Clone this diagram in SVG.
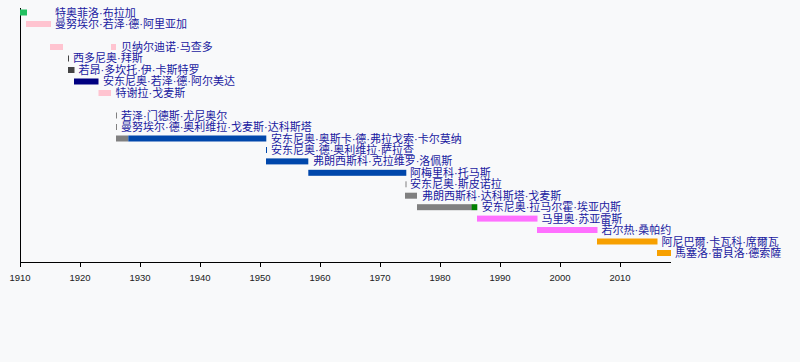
<svg xmlns="http://www.w3.org/2000/svg" width="800" height="362" viewBox="0 0 800 362">
<style>
.lbl{font-family:"Liberation Sans","Noto Sans CJK SC","Noto Sans CJK TC",sans-serif;font-size:11px;fill:#1a1aa0}
.yr{font-family:"Liberation Sans",Arial,sans-serif;font-size:9.5px;fill:#222;text-anchor:middle}
.ax{stroke:#000;stroke-width:1;fill:none}
.g1{fill:#22c060}.pk{fill:#ffc4d0}.dg{fill:#444}.nv{fill:#000080}.gy{fill:#808080}
.bl{fill:#0047ab}.gn{fill:#008000}.mg{fill:#ff70ff}.or{fill:#f7a000}
</style>
<rect width="800" height="362" fill="#f8f9fa"/>
<g id="axes">
<path class="ax" d="M20.5,8V262.5H671"/>
<path class="ax" d="M20.5,262v5M80.5,262v5M140.5,262v5M200.5,262v5M260.5,262v5M320.5,262v5M380.5,262v5M440.5,262v5M500.5,262v5M560.5,262v5M620.5,262v5"/>
<text class="yr" x="20" y="281">1910</text>
<text class="yr" x="80" y="281">1920</text>
<text class="yr" x="140" y="281">1930</text>
<text class="yr" x="200" y="281">1940</text>
<text class="yr" x="260" y="281">1950</text>
<text class="yr" x="320" y="281">1960</text>
<text class="yr" x="380" y="281">1970</text>
<text class="yr" x="440" y="281">1980</text>
<text class="yr" x="500" y="281">1990</text>
<text class="yr" x="560" y="281">2000</text>
<text class="yr" x="620" y="281">2010</text>
</g>
<g id="bars">
<g id="r1"><rect class="g1" x="20" y="9.5" width="7" height="6"/><text class="lbl" x="55" y="16.5">特奥菲洛·布拉加</text></g>
<g id="r2"><rect class="pk" x="26" y="21" width="25" height="6"/><text class="lbl" x="55" y="28">曼努埃尔·若泽·德·阿里亚加</text></g>
<g id="r4"><rect class="pk" x="50" y="44" width="13" height="6"/><rect class="pk" x="111" y="44" width="5" height="6"/><text class="lbl" x="121" y="51">贝纳尔迪诺·马查多</text></g>
<g id="r5"><rect class="dg" x="68" y="55.5" width="1" height="6"/><text class="lbl" x="73" y="62.3">西多尼奥·拜斯</text></g>
<g id="r6"><rect class="dg" x="68" y="67" width="6.5" height="6"/><text class="lbl" x="78.5" y="73.8">若昂·多坎托·伊·卡斯特罗</text></g>
<g id="r7"><rect class="nv" x="74" y="78.5" width="24.5" height="6"/><text class="lbl" x="103" y="85.2">安东尼奥·若泽·德·阿尔美达</text></g>
<g id="r8"><rect class="pk" x="98.5" y="90" width="12.5" height="6"/><text class="lbl" x="115.5" y="96.7">特谢拉·戈麦斯</text></g>
<g id="r10"><rect class="gy" x="116" y="112.5" width="1" height="6"/><text class="lbl" x="121" y="119.5">若泽·门德斯·尤尼奥尔</text></g>
<g id="r11"><rect class="gy" x="116" y="124" width="1" height="6"/><text class="lbl" x="121" y="131">曼努埃尔·德·奥利维拉·戈麦斯·达科斯塔</text></g>
<g id="r12"><rect class="gy" x="116" y="135.5" width="12.3" height="6"/><rect class="bl" x="128.3" y="135.5" width="138" height="6"/><text class="lbl" x="271" y="142.5">安东尼奥·奥斯卡·德·弗拉戈索·卡尔莫纳</text></g>
<g id="r13"><rect class="bl" x="266" y="147" width="1" height="6"/><text class="lbl" x="271" y="154">安东尼奥·德·奥利维拉·萨拉查</text></g>
<g id="r14"><rect class="bl" x="266" y="158.4" width="42.3" height="6"/><text class="lbl" x="313" y="165.4">弗朗西斯科·克拉维罗·洛佩斯</text></g>
<g id="r15"><rect class="bl" x="308.3" y="169.8" width="98" height="6"/><text class="lbl" x="410" y="176.8">阿梅里科·托马斯</text></g>
<g id="r16"><rect class="gy" x="405.5" y="181.3" width="1" height="6"/><text class="lbl" x="410" y="188.3">安东尼奥·斯皮诺拉</text></g>
<g id="r17"><rect class="gy" x="405" y="192.7" width="12" height="6"/><text class="lbl" x="422" y="199.7">弗朗西斯科·达科斯塔·戈麦斯</text></g>
<g id="r18"><rect class="gy" x="417" y="204.2" width="55" height="6"/><rect class="gn" x="471.7" y="204.2" width="5.6" height="6"/><text class="lbl" x="481.7" y="211.2">安东尼奥·拉马尔霍·埃亚内斯</text></g>
<g id="r19"><rect class="mg" x="477" y="215.6" width="60.5" height="6"/><text class="lbl" x="541.5" y="222.6">马里奥·苏亚雷斯</text></g>
<g id="r20"><rect class="mg" x="537" y="227" width="60.5" height="6"/><text class="lbl" x="601.5" y="234">若尔热·桑帕约</text></g>
<g id="r21"><rect class="or" x="597" y="238.5" width="60.5" height="6"/><text class="lbl" x="661.5" y="245.5">阿尼巴爾·卡瓦科·席爾瓦</text></g>
<g id="r22"><rect class="or" x="657" y="250" width="14" height="6"/><text class="lbl" x="675" y="257">馬塞洛·雷貝洛·德索薩</text></g>
</g>
</svg>
